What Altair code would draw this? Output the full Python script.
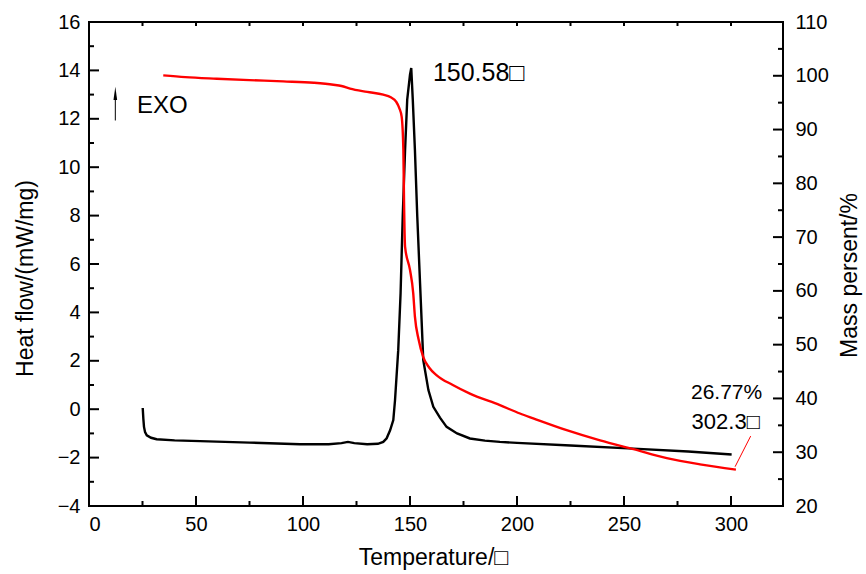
import altair as alt
import pandas as pd

FONT = "Liberation Sans"
W, H = 694, 484

# ---- data ----
heat_t = [25.1, 25.4, 25.7, 26.2, 27, 29, 31.6, 40, 51.9, 75, 98.6, 112, 118, 121, 124, 130,
          135, 137.5, 139.1, 140.7, 142.2, 143, 144.5, 145.6, 146.6, 147.7, 148.7, 150.0,
          150.58, 151.3, 152.3, 153.4, 154.7, 156.2, 158.6, 160.9, 164, 167.1, 172, 178,
          185, 192, 200, 225, 254.4, 280, 300.3]
heat_v = [0.05, -0.4, -0.73, -0.95, -1.08, -1.18, -1.24, -1.29, -1.32, -1.38, -1.45, -1.45,
          -1.4, -1.35, -1.4, -1.45, -1.43, -1.35, -1.2, -0.87, -0.45, 0.37, 2.44, 4.79,
          7.96, 10.71, 12.79, 13.82, 14.1, 12.79, 10.71, 7.96, 5.2, 2.03, 0.79, 0.1, -0.35,
          -0.73, -1.0, -1.21, -1.3, -1.35, -1.39, -1.5, -1.63, -1.75, -1.87]

mass_t = [34.7, 45, 59.7, 75, 90.8, 105, 114.2, 118, 122, 130, 137.5, 141, 143.5, 145, 146.1,
          146.9, 147.2, 147.7, 150, 151.5, 152.3, 154, 156.2, 159, 162.5, 170, 178, 192,
          201.4, 207.6, 223.2, 238.8, 254.4, 270, 285.5, 302.3]
mass_v = [100.07, 99.75, 99.46, 99.2, 98.96, 98.7, 98.34, 98.1, 97.6, 97.0, 96.5, 96.0, 95.2,
          94.0, 92.4, 86.2, 76.9, 68.2, 63.9, 59.6, 55.2, 51.0, 47.7, 45.7, 44.3, 42.5, 40.9,
          38.75, 37.2, 36.3, 34.1, 32.2, 30.56, 28.9, 27.75, 26.77]

# annotations (left-axis coordinates)
ann_text = ["150.58□", "26.77%", "302.3□", "EXO"]
ann_t = [160.7, 281.3, 281.6, 22.4]
ann_v = [13.9, 0.66, -0.52, 12.54]
ann_size = [25, 21, 22, 24]

# leader line (right-axis coordinates)
lead_t, lead_t2 = [301.9], [309.2]
lead_v, lead_v2 = [27.3], [33.0]

# EXO arrow (left-axis coordinates)
arrow_t = [12.3]
arrow_v0, arrow_v1, arrow_tip = [11.93], [13.0], [13.05]

# tick values
x_major = [0, 50, 100, 150, 200, 250, 300]
x_minor = [25, 75, 125, 175, 225, 275]
l_major = [-4, -2, 0, 2, 4, 6, 8, 10, 12, 14, 16]
l_minor = [-3, -1, 1, 3, 5, 7, 9, 11, 13, 15]
r_major = [20, 30, 40, 50, 60, 70, 80, 90, 100, 110]
r_minor = [25, 35, 45, 55, 65, 75, 85, 95, 105]

xs = alt.Scale(domain=[0, 324.3], nice=False, zero=False)
ls = alt.Scale(domain=[-4, 16], nice=False, zero=False)
rs = alt.Scale(domain=[20, 110], nice=False, zero=False)

x_axis = alt.Axis(values=x_major, title="Temperature/□", ticks=False, tickSize=0, domain=False,
                  grid=False, labelFontSize=20, labelPadding=8, labelColor="black",
                  titleFontSize=23, titleFontWeight="normal", titleColor="black",
                  titleX=344, titleY=51, titleAlign="center", titleBaseline="middle",
                  labelFont=FONT, titleFont=FONT)
l_axis = alt.Axis(values=l_major, title="Heat flow/(mW/mg)", ticks=False, tickSize=0,
                  domain=False, grid=False, labelFontSize=20, labelPadding=9,
                  labelColor="black", titleFontSize=23, titleFontWeight="normal",
                  titleColor="black", titleX=-64, titleY=256, titleAngle=270,
                  titleAlign="center", titleBaseline="middle", labelFont=FONT, titleFont=FONT)
r_axis = alt.Axis(values=r_major, title="Mass persent/%", orient="right", ticks=False,
                  tickSize=0, domain=False, grid=False, labelFontSize=20, labelPadding=12,
                  labelColor="black", titleFontSize=23, titleFontWeight="normal",
                  titleColor="black", titleX=66, titleY=253, titleAngle=270,
                  titleAlign="center", titleBaseline="middle", labelFont=FONT, titleFont=FONT)

heat_df = pd.DataFrame({"t": heat_t, "v": heat_v})
mass_df = pd.DataFrame({"t": mass_t, "v": mass_v})
ann_df = pd.DataFrame({"text": ann_text, "t": ann_t, "v": ann_v, "s": ann_size})

X = lambda f: alt.X(f, scale=xs, axis=x_axis)
YL = lambda f: alt.Y(f, scale=ls, axis=l_axis)
YR = lambda f: alt.Y(f, scale=rs, axis=r_axis)

heat_line = alt.Chart(heat_df).mark_line(color="black", strokeWidth=2.4).encode(
    x=X("t:Q"), y=YL("v:Q"),
)

ann = alt.Chart(ann_df).mark_text(align="left", baseline="middle", font=FONT, color="black").encode(
    x=X("t:Q"), y=YL("v:Q"),
    text="text:N",
    size=alt.Size("s:Q", scale=None, legend=None),
)

arrow_df = pd.DataFrame({"t": arrow_t, "v0": arrow_v0, "v1": arrow_v1, "tip": arrow_tip})
arrow_shaft = alt.Chart(arrow_df).mark_rule(color="black", strokeWidth=1).encode(
    x=X("t:Q"), y=YL("v0:Q"), y2="v1:Q",
)
arrow_head = alt.Chart(arrow_df).mark_point(
    shape="M0,-1L0.28,1L-0.28,1Z", filled=True, color="black", opacity=1, size=170
).encode(
    x=X("t:Q"), y=YL("tip:Q"),
)

def xticks(vals, length, top=False):
    df = pd.DataFrame({"t": vals})
    y0 = 0 if top else H
    y1 = length if top else H - length
    return alt.Chart(df).mark_rule(color="black", strokeWidth=2).encode(
        x=X("t:Q"), y=alt.value(y0), y2=alt.value(y1),
    )

def yticks(vals, Y, length, right=False):
    df = pd.DataFrame({"v": vals})
    x0 = W if right else 0
    x1 = W - length if right else length
    return alt.Chart(df).mark_rule(color="black", strokeWidth=2).encode(
        y=Y("v:Q"), x=alt.value(x0), x2=alt.value(x1),
    )

left_layer = alt.layer(
    heat_line, ann, arrow_shaft, arrow_head,
    xticks(x_major, 10), xticks(x_minor, 5),
    xticks(x_major, 4, top=True), xticks(x_minor, 4, top=True),
    yticks(l_major, YL, 10), yticks(l_minor, YL, 5),
)

mass_line = alt.Chart(mass_df).mark_line(color="#ff0000", strokeWidth=2.4,
                                          interpolate="monotone").encode(
    x=X("t:Q"), y=YR("v:Q"),
)
lead_df = pd.DataFrame({"t": lead_t, "t2": lead_t2, "v": lead_v, "v2": lead_v2})
leader = alt.Chart(lead_df).mark_rule(color="#ff0000", strokeWidth=1).encode(
    x=X("t:Q"), x2="t2:Q", y=YR("v:Q"), y2="v2:Q",
)
right_layer = alt.layer(
    mass_line, leader,
    yticks(r_major, YR, 10, right=True), yticks(r_minor, YR, 5, right=True),
)

chart = alt.layer(left_layer, right_layer).resolve_scale(y="independent").properties(
    width=W, height=H,
    autosize="none",
    padding={"left": 89, "top": 22, "right": 83, "bottom": 68},
    background="white",
).configure(font=FONT).configure_view(stroke="black", strokeWidth=2)

chart.save("out.html", embed_options={"renderer": "svg", "actions": False})
